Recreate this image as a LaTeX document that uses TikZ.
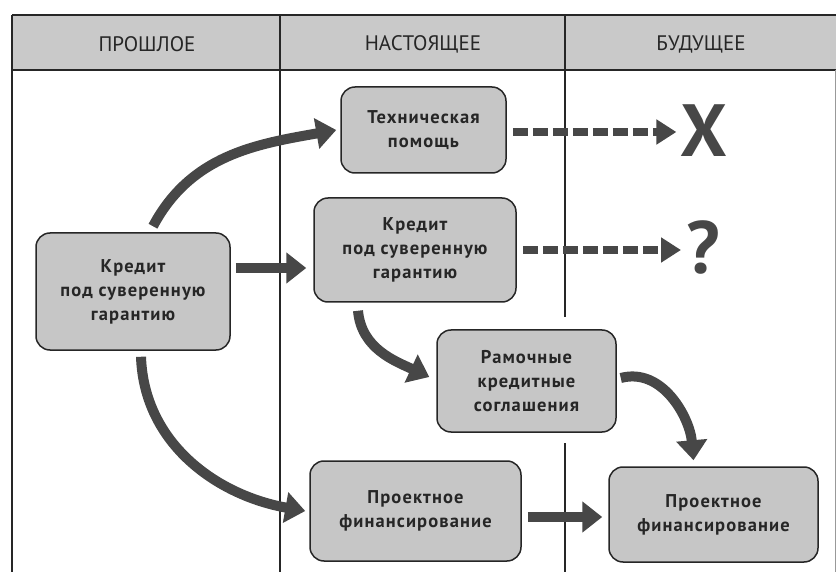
\documentclass[tikz,border=0pt]{standalone}
\usepackage{fontspec}
\setmainfont{PT Sans}
\newfontfamily\boxfont[LetterSpace=6]{PT Sans}
\usetikzlibrary{arrows.meta}
\begin{document}
\begin{tikzpicture}[x=1pt,y=1pt,
  box/.style={draw=black!85, line width=1.5pt, fill=gray!45, rounded corners=14pt,
    align=center, inner sep=0pt,
    font=\boxfont\bfseries\fontsize{18.5}{24}\selectfont, text=black!85},
  bigarrow/.style={line width=10pt, draw=black!72, -{Triangle[width=30pt,length=20pt]}},
  dasharrow/.style={line width=8pt, draw=black!72, dash pattern=on 15pt off 5pt,
    -{Triangle[width=24pt,length=20pt]}},
  hdr/.style={font=\fontsize{21}{24}\selectfont, text=black!85, inner sep=0pt},
  bigsign/.style={font=\bfseries\fontsize{74}{74}\selectfont, text=black!72, inner sep=0pt},
  frameline/.style={line width=1.2pt, draw=black!85}]
\useasboundingbox (0,0) rectangle (836,-572);
% header band
\fill[gray!42] (12,-15) rectangle (836,-70);
\draw[frameline] (12,-15) -- (836,-15);
\draw[frameline, line width=1.8pt] (12,-70) -- (836,-70);
\draw[frameline] (12,-15) -- (12,-572);
\draw[frameline] (280,-15) -- (280,-572);
\draw[frameline] (565,-15) -- (565,-317);
\draw[frameline] (565,-443) -- (565,-572);
\draw[line width=0.6pt, draw=black!40] (835,-70) -- (835,-572);
\node[hdr] (h1) at (147,-44) {ПРОШЛОЕ};
\node[hdr] (h2) at (423,-44) {НАСТОЯЩЕЕ};
\node[hdr] (h3) at (701,-45) {БУДУЩЕЕ};
% boxes
\node[box, minimum width=165pt, minimum height=86pt] (T) at (423.5,-130) {Техническая\\помощь};
\node[box, minimum width=202pt, minimum height=104pt] (K) at (415,-250) {Кредит\\под суверенную\\гарантию};
\node[box, minimum width=194pt, minimum height=117pt] (L) at (133,-291.5) {Кредит\\под суверенную\\гарантию};
\node[box, minimum width=179pt, minimum height=102pt] (R) at (526.5,-381) {Рамочные\\кредитные\\соглашения};
\node[box, minimum width=211pt, minimum height=100pt] (P1) at (415.5,-511) {Проектное\\финансирование};
\node[box, minimum width=209pt, minimum height=95pt] (P2) at (713.5,-514.5) {Проектное\\финансирование};
\node[bigsign] (X) at (704,-131) {X};
\node[bigsign] (Q) at (703,-247) {?};
% curved arrows
\draw[bigarrow] ([xshift=20pt,yshift=6pt]L.north) to[out=62,in=190] ([xshift=-4pt]T.west);
\draw[bigarrow] ([xshift=8pt,yshift=-6pt]L.south) to[out=-88,in=170] ([xshift=-4pt]P1.west);
\draw[bigarrow] ([xshift=-57pt,yshift=-8pt]K.south) to[out=-85,in=155] ([xshift=-7pt,yshift=4pt]R.west);
\draw[bigarrow] ([xshift=4pt,yshift=3pt]R.east) to[out=15,in=95] ([xshift=-20pt,yshift=6pt]P2.north);
% straight arrows
\coordinate (s1) at ([xshift=5pt,yshift=23.5pt]L.east);
\coordinate (e1) at (s1 -| K.west);
\draw[bigarrow] (s1) -- ([xshift=-7pt]e1);
\coordinate (s2) at ([xshift=6pt,yshift=-6pt]P1.east);
\coordinate (e2) at (s2 -| P2.west);
\draw[bigarrow] (s2) -- ([xshift=-6pt]e2);
% dashed arrows
\coordinate (d1) at ([xshift=6pt,yshift=-2pt]T.east);
\coordinate (f1) at (d1 -| X.west);
\draw[dasharrow] (d1) -- ([xshift=-4pt]f1);
\coordinate (d2) at ([xshift=6pt]K.east);
\coordinate (f2) at (d2 -| Q.west);
\draw[dasharrow] (d2) -- ([xshift=-5pt]f2);
\end{tikzpicture}
\end{document}
